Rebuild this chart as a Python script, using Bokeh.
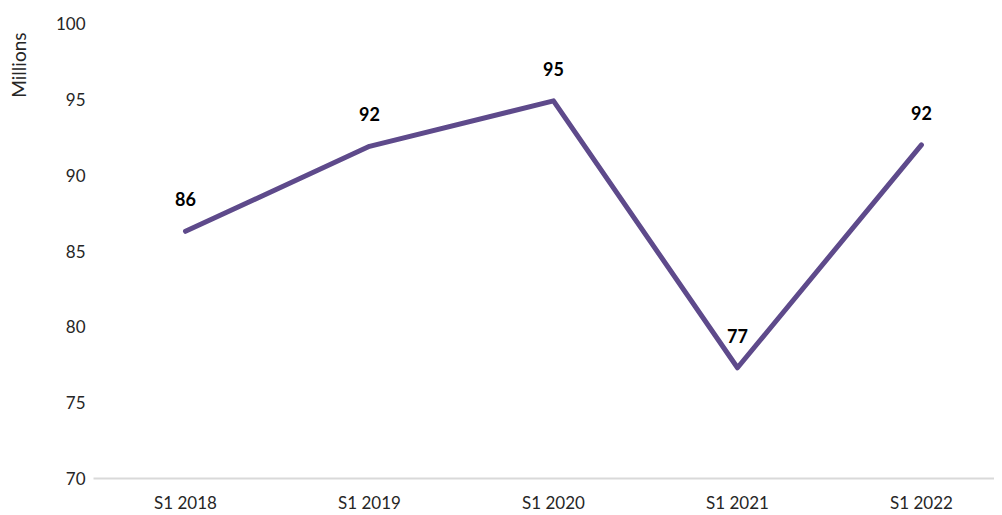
import math
from bokeh.plotting import figure
from bokeh.models import ColumnDataSource, FixedTicker, Range1d, Title
from bokeh.core.properties import value
from bokeh.embed import file_html
from bokeh.resources import INLINE

categories = ["S1 2018", "S1 2019", "S1 2020", "S1 2021", "S1 2022"]
values = [86.3, 91.9, 94.9, 77.3, 92.0]
labels = ["86", "92", "95", "77", "92"]
y_ticks = [70, 75, 80, 85, 90, 95, 100]

FONT = "Lato"
xs = list(range(len(categories)))
src = ColumnDataSource(dict(x=xs, y=values, lab=labels))

p = figure(width=994, height=515, output_backend="svg", toolbar_location=None,
           x_range=Range1d(-0.5, 4.397), y_range=Range1d(70, 100),
           min_border_left=93, min_border_right=0, min_border_top=23, min_border_bottom=35)
p.outline_line_color = None
p.xgrid.visible = False
p.ygrid.visible = False
p.background_fill_color = "white"
p.border_fill_color = "white"

p.line("x", "y", source=src, line_color="#5e4a8b", line_width=5, line_cap="round", line_join="round")
p.text("x", "y", text="lab", source=src, y_offset=-32, text_align="center", text_baseline="middle",
       text_font=value(FONT), text_font_style="bold", text_font_size="18px", text_color="#000000")

p.xaxis.ticker = FixedTicker(ticks=xs)
p.xaxis.major_label_overrides = {i: c for i, c in enumerate(categories)}
p.xaxis.axis_line_color = "#d9d9d9"
p.xaxis.axis_line_width = 2
p.xaxis.major_tick_line_color = None
p.xaxis.minor_tick_line_color = None
p.xaxis.major_label_text_font = FONT
p.xaxis.major_label_text_font_size = "17px"
p.xaxis.major_label_text_color = "#262626"
p.xaxis.major_label_standoff = 7

p.yaxis.ticker = FixedTicker(ticks=y_ticks)
p.yaxis.axis_line_color = None
p.yaxis.major_tick_line_color = None
p.yaxis.minor_tick_line_color = None
p.yaxis.major_tick_out = 0
p.yaxis.major_tick_in = 0
p.yaxis.minor_tick_out = 0
p.yaxis.minor_tick_in = 0
p.yaxis.axis_label_standoff = 0
p.yaxis.major_label_text_font = FONT
p.yaxis.major_label_text_font_size = "17px"
p.yaxis.major_label_text_color = "#262626"
p.yaxis.major_label_standoff = 8

# second (blank) line pushes "Millions" toward the outer edge of the left panel
p.add_layout(Title(text="Millions\n ", align="right", text_font=FONT, text_font_size="19px",
                   text_font_style="normal", text_color="#262626", offset=9, standoff=0), "left")

open("out.html", "w").write(file_html(p, INLINE))
